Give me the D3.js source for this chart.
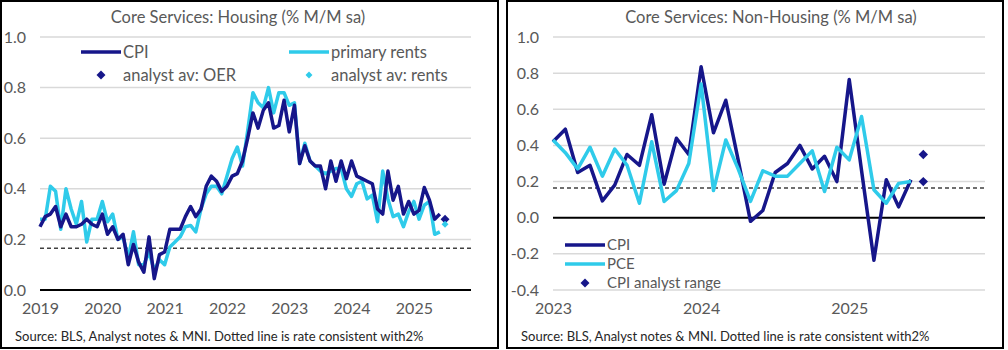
<!DOCTYPE html>
<html>
<head>
<meta charset="utf-8">
<script src="https://cdn.jsdelivr.net/npm/d3@7"></script>
<style>
  body { margin: 0; background: #fff; }
  text { font-family: Lato, "Noto Sans", sans-serif; fill: #595959; }
</style>
</head>
<body>
<div id="chart"></div>
<script>
// ---- data: housing panel, monthly from Jan 2019 ----
const housingCpi = [
  0.25, 0.29, 0.30, 0.33, 0.25, 0.30, 0.25, 0.25, 0.26, 0.28, 0.26, 0.25,
  0.30, 0.22, 0.25, 0.20, 0.22, 0.10, 0.18, 0.11, 0.07, 0.21, 0.045, 0.14,
  0.15, 0.24, 0.24, 0.24, 0.29, 0.33, 0.29, 0.32, 0.41, 0.45, 0.43, 0.39,
  0.41, 0.45, 0.46, 0.51, 0.60, 0.70, 0.64, 0.71, 0.74, 0.64, 0.65, 0.75,
  0.625, 0.73, 0.50, 0.57, 0.51, 0.49, 0.49, 0.40, 0.51, 0.43, 0.51, 0.44,
  0.51, 0.45, 0.44, 0.43, 0.42, 0.32, 0.30, 0.47, 0.355, 0.41, 0.30, 0.35,
  0.30, 0.315, 0.405, 0.355, 0.28, 0.30
];
const housingRents = [
  0.28, 0.28, 0.41, 0.39, 0.24, 0.40, 0.32, 0.26, 0.35, 0.19, 0.28, 0.28,
  0.35, 0.27, 0.30, 0.20, 0.21, 0.125, 0.23, 0.10, 0.10, 0.15, 0.077, 0.12,
  0.10, 0.17, 0.19, 0.21, 0.25, 0.255, 0.23, 0.32, 0.38, 0.41, 0.41, 0.38,
  0.45, 0.52, 0.565, 0.49, 0.63, 0.78, 0.74, 0.72, 0.80, 0.70, 0.78, 0.78,
  0.73, 0.74, 0.50, 0.58, 0.51, 0.49, 0.47, 0.46, 0.47, 0.48, 0.48, 0.40,
  0.37, 0.42, 0.43, 0.36, 0.375, 0.27, 0.47, 0.36, 0.29, 0.30, 0.25, 0.31,
  0.35, 0.28, 0.335, 0.35, 0.22, 0.23
];
const housingAnalystOer = 0.28;     // Jul 2025
const housingAnalystRents = 0.26;   // Jul 2025
const housingYears = ["2019", "2020", "2021", "2022", "2023", "2024", "2025"];

// ---- data: non-housing panel, monthly from Jan 2023 ----
const nonHousingCpi = [
  0.42, 0.49, 0.25, 0.29, 0.093, 0.18, 0.35, 0.29, 0.57, 0.185, 0.44, 0.35,
  0.835, 0.47, 0.65, 0.32, -0.02, 0.04, 0.25, 0.30, 0.40, 0.27, 0.34, 0.20,
  0.765, 0.26, -0.235, 0.21, 0.06, 0.21
];
const nonHousingPce = [
  0.43, 0.36, 0.27, 0.39, 0.23, 0.38, 0.29, 0.08, 0.42, 0.09, 0.15, 0.30,
  0.74, 0.15, 0.43, 0.27, 0.09, 0.26, 0.23, 0.23, 0.30, 0.37, 0.145, 0.39,
  0.32, 0.56, 0.155, 0.08, 0.19, 0.20
];
const nonHousingAnalystRange = [0.35, 0.20];  // Jul 2025
const nonHousingYears = ["2023", "2024", "2025"];

const consistentRate = 0.165;   // 2% a year
const source = "Source: BLS, Analyst notes & MNI. Dotted line is rate consistent with2%";

const navy = "#16168a";
const cyan = "#2fcbea";
const grid = "#d9d9d9";

const svg = d3.select("#chart").append("svg")
  .attr("width", 1008)
  .attr("height", 350);

// draws one panel
function drawPanel(opt) {
  const g = svg.append("g");

  // frame
  g.append("rect")
    .attr("x", opt.frame[0]).attr("y", 1)
    .attr("width", opt.frame[1]).attr("height", 347)
    .attr("fill", "none").attr("stroke", "#000").attr("stroke-width", 2);

  const x = d3.scaleLinear().domain([0, opt.months - 1]).range(opt.xRange);
  const y = d3.scaleLinear().domain(opt.yDomain).range(opt.yRange);

  // gridlines
  g.selectAll(".grid").data(opt.yTicks.filter(d => d !== 0)).enter()
    .append("line")
    .attr("x1", opt.xRange[0]).attr("x2", opt.xRange[1])
    .attr("y1", d => y(d)).attr("y2", d => y(d))
    .attr("stroke", grid).attr("stroke-width", 1.5);

  // y axis labels
  const yAxis = d3.axisLeft(y)
    .tickValues(opt.yTicks)
    .tickSize(0)
    .tickPadding(0)
    .tickFormat(d => d.toFixed(1));
  g.append("g")
    .attr("transform", `translate(${opt.yLabelX},0)`)
    .call(yAxis)
    .call(a => a.select(".domain").remove())
    .call(a => a.selectAll("text")
      .style("font-family", "Lato, 'Noto Sans', sans-serif")
      .style("font-size", "16px").attr("fill", "#595959"));

  // zero line
  g.append("line")
    .attr("x1", opt.xRange[0]).attr("x2", opt.xRange[1])
    .attr("y1", y(0)).attr("y2", y(0))
    .attr("stroke", "#000").attr("stroke-width", 2);

  // x axis labels (January of each year)
  const xAxis = d3.axisBottom(x)
    .tickValues(opt.years.map((d, i) => i * 12))
    .tickSize(0)
    .tickPadding(0)
    .tickFormat((d, i) => opt.years[i]);
  g.append("g")
    .attr("transform", "translate(0,303)")
    .call(xAxis)
    .call(a => a.select(".domain").remove())
    .call(a => a.selectAll("text")
      .style("font-family", "Lato, 'Noto Sans', sans-serif")
      .style("font-size", "16px").attr("fill", "#595959"));

  // dashed 2% line
  g.append("line")
    .attr("x1", opt.xRange[0]).attr("x2", opt.xRange[1])
    .attr("y1", y(consistentRate)).attr("y2", y(consistentRate))
    .attr("stroke", "#404040").attr("stroke-width", 1.5)
    .attr("stroke-dasharray", "4,3");

  const line = d3.line().x((d, i) => x(i)).y(d => y(d));

  // series
  opt.series.forEach(s => {
    g.append("path")
      .datum(s.values)
      .attr("fill", "none")
      .attr("stroke", s.color)
      .attr("stroke-width", 3.5)
      .attr("stroke-linejoin", "round")
      .attr("d", line);
  });

  // analyst diamonds
  opt.diamonds.forEach(dm => {
    g.append("path")
      .attr("d", d3.symbol(d3.symbolSquare, dm.size)())
      .attr("transform", `translate(${x(dm.month)},${y(dm.value)}) rotate(45)`)
      .attr("fill", dm.color);
  });

  // title
  g.append("text")
    .attr("x", opt.titleX).attr("y", 23)
    .attr("text-anchor", "middle")
    .style("font-size", "16.5px")
    .text(opt.title);

  // source
  g.append("text")
    .attr("x", opt.frame[0] + 14).attr("y", 341)
    .style("font-size", "13px")
    .style("fill", "#262626")
    .text(source);

  // legend
  opt.legend.forEach(l => {
    if (l.type === "line") {
      g.append("line")
        .attr("x1", l.x - 42).attr("x2", l.x - 2)
        .attr("y1", l.y).attr("y2", l.y)
        .attr("stroke", l.color).attr("stroke-width", 3.5);
    } else {
      g.append("path")
        .attr("d", d3.symbol(d3.symbolSquare, l.size)())
        .attr("transform", `translate(${l.x - 22},${l.y}) rotate(45)`)
        .attr("fill", l.color);
    }
    g.append("text")
      .attr("x", l.x).attr("y", l.y + opt.legendSize * 0.35)
      .style("font-size", opt.legendSize + "px")
      .text(l.label);
  });
}

drawPanel({
  frame: [1, 497],
  months: 84,
  xRange: [40, 471],
  yDomain: [0, 1],
  yRange: [290, 37],
  yTicks: [0, 0.2, 0.4, 0.6, 0.8, 1.0],
  yLabelX: 26,
  years: housingYears,
  title: "Core Services: Housing (% M/M sa)",
  titleX: 238,
  series: [
    { values: housingRents, color: cyan },
    { values: housingCpi, color: navy }
  ],
  diamonds: [
    { month: 78, value: housingAnalystOer, color: navy, size: 40 },
    { month: 78, value: housingAnalystRents, color: cyan, size: 24 }
  ],
  legendSize: 16.5,
  legend: [
    { type: "line", label: "CPI", color: navy, x: 123, y: 52 },
    { type: "line", label: "primary rents", color: cyan, x: 331, y: 52 },
    { type: "diamond", label: "analyst av: OER", color: navy, x: 123, y: 75, size: 40 },
    { type: "diamond", label: "analyst av: rents", color: cyan, x: 331, y: 75, size: 24 }
  ]
});

drawPanel({
  frame: [507, 496],
  months: 36,
  xRange: [553, 985],
  yDomain: [-0.4, 1],
  yRange: [290, 37],
  yTicks: [-0.4, -0.2, 0, 0.2, 0.4, 0.6, 0.8, 1.0],
  yLabelX: 539,
  years: nonHousingYears,
  title: "Core Services: Non-Housing (% M/M sa)",
  titleX: 771,
  series: [
    { values: nonHousingCpi, color: navy },
    { values: nonHousingPce, color: cyan }
  ],
  diamonds: nonHousingAnalystRange.map(v => ({ month: 30, value: v, color: navy, size: 44 })),
  legendSize: 15,
  legend: [
    { type: "line", label: "CPI", color: navy, x: 607, y: 245 },
    { type: "line", label: "PCE", color: cyan, x: 607, y: 264 },
    { type: "diamond", label: "CPI analyst range", color: navy, x: 607, y: 283, size: 40 }
  ]
});
</script>
</body>
</html>
